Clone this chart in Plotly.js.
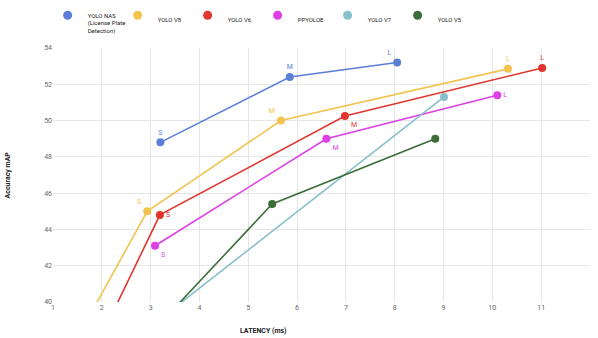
<!DOCTYPE html>
<html><head><meta charset="utf-8">
<script src="https://cdn.plot.ly/plotly-3.0.1.min.js"></script>
<style>html,body{margin:0;padding:0;background:#fff}#c{width:598px;height:338px}</style>
</head><body><div id="c"></div>
<script>
const nasX = [3.2, 5.85, 8.05];
const nasY = [48.8, 52.4, 53.2];
const nasLbl = ["S", "M", "L"];
const v8X = [1.35, 2.93, 5.67, 10.32];
const v8Y = [37.3, 45.0, 50.0, 52.85];
const v8Lbl = ["", "S", "M", "L"];
const v6X = [1.88, 3.19, 6.98, 11.02];
const v6Y = [37.5, 44.8, 50.25, 52.9];
const v6Lbl = ["", "S", "M", "L"];
const ppX = [3.09, 6.6, 10.1];
const ppY = [43.1, 49.0, 51.4];
const ppLbl = ["S", "M", "L"];
const v7X = [2.4, 9.01];
const v7Y = [37.4, 51.3];
const v5X = [2.7, 5.49, 8.83];
const v5Y = [37.4, 45.4, 49.0];
const xTicks = [1,2,3,4,5,6,7,8,9,10,11];
const yTicks = [40,42,44,46,48,50,52,54];
const names = ['YOLO NAS<br>(License Plate<br>Detection)', 'YOLO V8', 'YOLO V6', 'PPYOLOE', 'YOLO V7', 'YOLO V5'];
const colors = ['#5b7fd8', '#f2c44f', '#e0362f', '#de3ee6', '#87bfcb', '#3d6e39'];

function tr(i, x, y, text, pos){
  const color = colors[i];
  return {type:'scatter', mode: text ? 'lines+markers+text' : 'lines+markers', name:names[i], x, y,
    text: text, textposition: pos, textfont:{size:7, color:color, family:'Roboto'},
    line:{color, width:1.6}, marker:{color, size:8}, showlegend:false, cliponaxis:true};
}
const data = [
  tr(0, nasX, nasY, nasLbl, ['top center','top center','top left']),
  tr(1, v8X, v8Y, v8Lbl, ['top left','top left','top left','top center']),
  tr(2, v6X, v6Y, v6Lbl, ['middle right','middle right','bottom right','top center']),
  tr(3, ppX, ppY, ppLbl, ['bottom right','bottom right','middle right']),
  tr(4, v7X, v7Y, null, null),
  tr(5, v5X, v5Y, null, null)
];
names.forEach((n,i)=>{
  data.push({type:'scatter', mode:'markers', name:n, x:[null], y:[null],
    marker:{color:colors[i], size:9}, showlegend:true});
});
const layout = {
  width:598, height:338,
  margin:{l:53, r:8, t:48, b:36, autoexpand:false},
  paper_bgcolor:'#fff', plot_bgcolor:'#fff',
  font:{family:'Roboto, sans-serif', size:7, color:'#555'},
  showlegend:true,
  legend:{orientation:'h', x:-0.01, xanchor:'left', y:1.17, yanchor:'top',
    font:{size:6, color:'#222'}, itemwidth:30, entrywidth:25, entrywidthmode:'pixels',
    tracegroupgap:0, valign:'top', bgcolor:'rgba(0,0,0,0)'},
  xaxis:{range:[1,12], tickvals:xTicks, showgrid:true, gridcolor:'#e6e6e6', zeroline:false,
    showline:false, tickfont:{size:7, color:'#666'}, ticks:'', fixedrange:true},
  yaxis:{range:[40,54], tickvals:yTicks, showgrid:true, gridcolor:'#e6e6e6', zeroline:false,
    showline:false, tickfont:{size:7, color:'#666'}, ticks:''},
  annotations:[
    {xref:'paper', yref:'paper', x:0.392, y:-0.115, yanchor:'middle', showarrow:false,
      text:'<b>LATENCY (ms)</b>', font:{size:7, color:'#222'}},
    {xref:'paper', yref:'paper', x:-0.083, y:0.5, xanchor:'center', yanchor:'middle', textangle:-90,
      showarrow:false, text:'<b>Accuracy mAP</b>', font:{size:7, color:'#222'}}
  ]
};
Plotly.newPlot('c', data, layout, {displayModeBar:false, staticPlot:true});
</script></body></html>
